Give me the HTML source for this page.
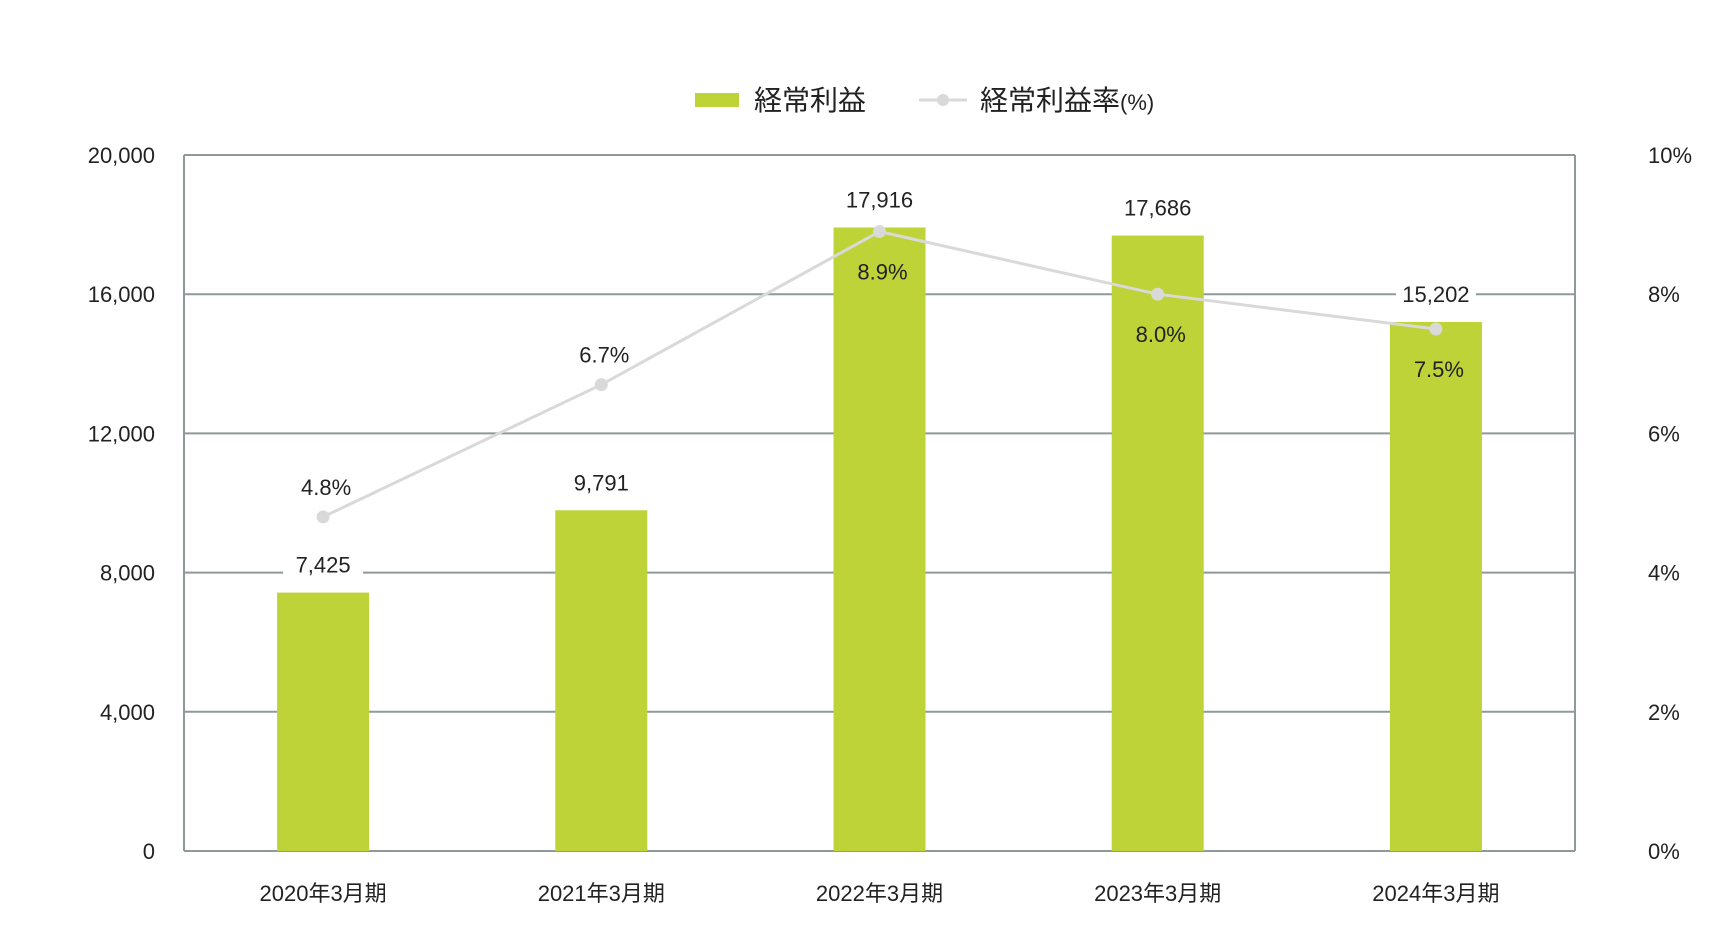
<!DOCTYPE html>
<html><head><meta charset="utf-8"><style>
body{margin:0;background:#fff;}
svg{display:block;font-family:"Liberation Sans","Noto Sans CJK JP",sans-serif;}
</style></head><body>
<svg id="chart" width="1732" height="946" viewBox="0 0 1732 946" xmlns="http://www.w3.org/2000/svg">
<g>
<rect x="695" y="93" width="44" height="14" fill="#bdd337"/>
<text x="754" y="110" font-size="28" fill="#222">経常利益</text>
<line x1="919" y1="100" x2="967" y2="100" stroke="#d9d9d9" stroke-width="3"/>
<circle cx="943" cy="100" r="6" fill="#d9d9d9"/>
<text x="980" y="110" font-size="28" fill="#222">経常利益率<tspan font-size="22">(%)</tspan></text>
</g>
<g id="grid"></g><g id="bars"></g><g id="line"></g><g id="labels"></g>
</svg>
<script>
const categories=["2020年3月期","2021年3月期","2022年3月期","2023年3月期","2024年3月期"];
const profit=[7425,9791,17916,17686,15202];
const rate=[4.8,6.7,8.9,8.0,7.5];
const leftTicks=[0,4000,8000,12000,16000,20000];
const rightTicks=[0,2,4,6,8,10];
const NS="http://www.w3.org/2000/svg";
const L=184,R=1575,T=155,B=851;
const yL=v=>B-(v/20000)*(B-T);
const yR=v=>B-(v/10)*(B-T);
const band=(R-L)/categories.length;
const xC=i=>L+band*(i+0.5);
function mk(tag,attrs,parent,text){const e=document.createElementNS(NS,tag);for(const k in attrs)e.setAttribute(k,attrs[k]);if(text!==undefined)e.textContent=text;document.getElementById(parent).appendChild(e);return e;}
leftTicks.forEach((t,i)=>{
  const g=mk('line',{x1:L,x2:R,y1:yL(t),y2:yL(t),stroke:'#8f9999','stroke-width':2},'grid');
  
  
  const a=mk('text',{x:155,y:yL(t)+8,'text-anchor':'end','font-size':22,fill:'#222'},'grid',t.toLocaleString('en-US'));
  
  
});
rightTicks.forEach(t=>{
  const a=mk('text',{x:1648,y:yR(t)+8,'font-size':22,fill:'#222'},'grid',t+'%');
  
  
});
[L,R].forEach(x=>{const v=mk('line',{x1:x,x2:x,y1:T,y2:B,stroke:'#8f9999','stroke-width':2},'grid');
  
  });
const bw=92;
categories.forEach((c,i)=>{
  const b=mk('rect',{x:xC(i)-bw/2,y:yL(profit[i]),width:bw,height:B-yL(profit[i]),fill:'#bdd337'},'bars');
  
  
  const xl=mk('text',{x:xC(i),y:901,'text-anchor':'middle','font-size':22,fill:'#222'},'labels',c);
  
  
  const s=profit[i].toLocaleString('en-US');
  const bg=mk('rect',{x:xC(i)-40,y:yL(profit[i])-44,width:80,height:30,fill:'#fff'},'labels');
  
  
  const vl=mk('text',{x:xC(i),y:yL(profit[i])-20,'text-anchor':'middle','font-size':22,fill:'#222'},'labels',s);
  
  
});
const pts=rate.map((r,i)=>xC(i)+','+yR(r)).join(' ');
const pl=mk('polyline',{points:pts,fill:'none',stroke:'#d9d9d9','stroke-width':3},'line');


rate.forEach((r,i)=>{
  const p=mk('circle',{cx:xC(i),cy:yR(r),r:6.5,fill:'#d9d9d9'},'line');
  
  
  const above=yR(r)<yL(profit[i])-10;
  const y=above?yR(r)-22:yR(r)+48;
  const t=mk('text',{x:xC(i)+3,y:y,'text-anchor':'middle','font-size':22,fill:'#222'},'labels',r.toFixed(1)+'%');
  
  
});
</script>
</body></html>
